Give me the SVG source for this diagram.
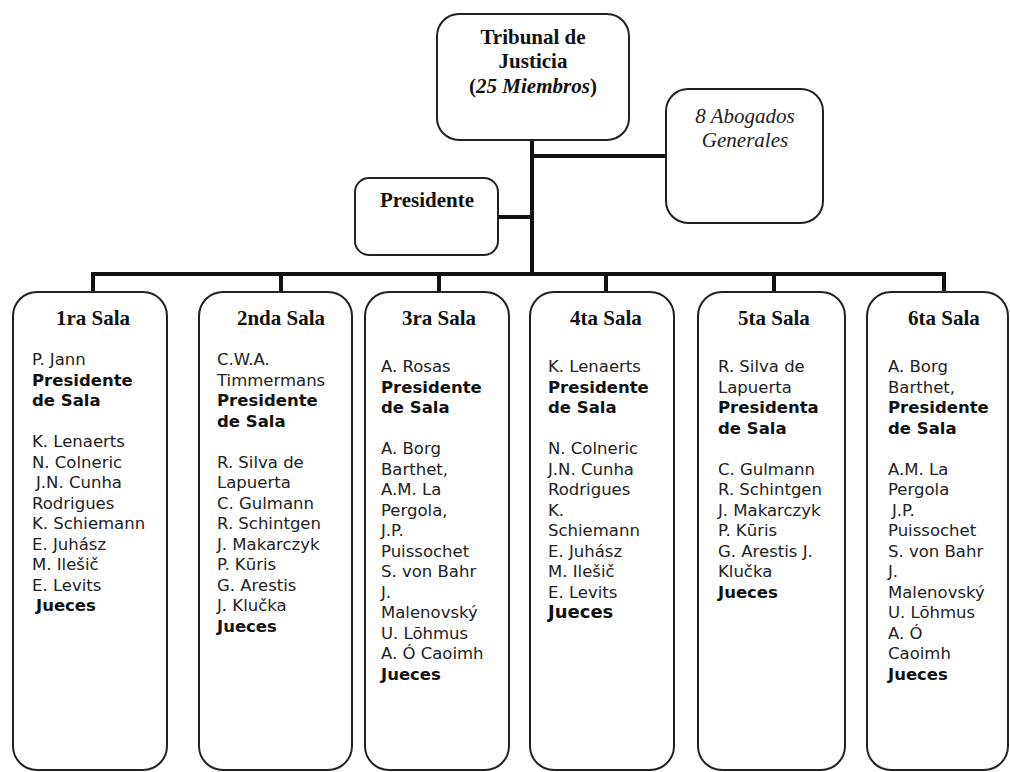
<svg xmlns="http://www.w3.org/2000/svg" width="1010" height="772" viewBox="0 0 1010 772">
<style>
.box{fill:#fff;stroke:#222;stroke-width:2}
.conn{fill:none;stroke:#111;stroke-width:4}
.hd{font-family:"Liberation Serif","Times New Roman",serif;font-size:21px;font-weight:bold;fill:#111;text-anchor:middle}
.it{font-family:"Liberation Serif","Times New Roman",serif;font-size:21px;font-style:italic;fill:#222;text-anchor:middle}
.bd{font-family:"DejaVu Sans",Verdana,sans-serif;font-size:16.5px;fill:#222}
.b{font-weight:bold;fill:#111}
</style>
<rect width="1010" height="772" fill="#fff"/>
<g id="connectors">
<path class="conn" d="M532,140 V274 M532,156 H666 M498,217 H532 M93,274 H944 M93,272 V292 M281,272 V292 M439,272 V292 M606,272 V292 M774,272 V292 M944,272 V292"/>
</g>
<g id="tribunal">
<rect class="box" x="437" y="14" width="192" height="126" rx="22"/>
<text class="hd" x="533" y="44">Tribunal de</text>
<text class="hd" x="533" y="68">Justicia</text>
<text class="hd" x="533" y="93">(<tspan font-style="italic">25 Miembros</tspan>)</text>
</g>
<g id="abogados">
<rect class="box" x="666" y="89" width="157" height="134" rx="22"/>
<text class="it" x="745" y="123">8 Abogados</text>
<text class="it" x="745" y="147">Generales</text>
</g>
<g id="presidente">
<rect class="box" x="355" y="178" width="143" height="77" rx="14"/>
<text class="hd" x="427" y="207">Presidente</text>
</g>
<g id="sala1">
<rect class="box" x="13" y="292" width="154" height="478" rx="24"/>
<text class="hd" x="93" y="325">1ra Sala</text>
<text class="bd" x="32" y="365">
<tspan x="32">P. Jann</tspan>
<tspan x="32" dy="20.5" class="b">Presidente</tspan>
<tspan x="32" dy="20.5" class="b">de Sala</tspan>
<tspan x="32" dy="41">K. Lenaerts</tspan>
<tspan x="32" dy="20.5">N. Colneric</tspan>
<tspan x="36" dy="20.5">J.N. Cunha</tspan>
<tspan x="32" dy="20.5">Rodrigues</tspan>
<tspan x="32" dy="20.5">K. Schiemann</tspan>
<tspan x="32" dy="20.5">E. Juhász</tspan>
<tspan x="32" dy="20.5">M. Ilešič</tspan>
<tspan x="32" dy="20.5">E. Levits</tspan>
<tspan x="36" dy="20.5" class="b">Jueces</tspan>
</text>
</g>
<g id="sala2">
<rect class="box" x="199" y="292" width="153" height="478" rx="24"/>
<text class="hd" x="281" y="325">2nda Sala</text>
<text class="bd" x="217" y="365">
<tspan x="217">C.W.A.</tspan>
<tspan x="217" dy="20.5">Timmermans</tspan>
<tspan x="217" dy="20.5" class="b">Presidente</tspan>
<tspan x="217" dy="20.5" class="b">de Sala</tspan>
<tspan x="217" dy="41">R. Silva de</tspan>
<tspan x="217" dy="20.5">Lapuerta</tspan>
<tspan x="217" dy="20.5">C. Gulmann</tspan>
<tspan x="217" dy="20.5">R. Schintgen</tspan>
<tspan x="217" dy="20.5">J. Makarczyk</tspan>
<tspan x="217" dy="20.5">P. Kūris</tspan>
<tspan x="217" dy="20.5">G. Arestis</tspan>
<tspan x="217" dy="20.5">J. Klučka</tspan>
<tspan x="217" dy="20.5" class="b">Jueces</tspan>
</text>
</g>
<g id="sala3">
<rect class="box" x="365" y="292" width="144" height="478" rx="24"/>
<text class="hd" x="439" y="325">3ra Sala</text>
<text class="bd" x="381" y="372">
<tspan x="381">A. Rosas</tspan>
<tspan x="381" dy="20.5" class="b">Presidente</tspan>
<tspan x="381" dy="20.5" class="b">de Sala</tspan>
<tspan x="381" dy="41">A. Borg</tspan>
<tspan x="381" dy="20.5">Barthet,</tspan>
<tspan x="381" dy="20.5">A.M. La</tspan>
<tspan x="381" dy="20.5">Pergola,</tspan>
<tspan x="381" dy="20.5">J.P.</tspan>
<tspan x="381" dy="20.5">Puissochet</tspan>
<tspan x="381" dy="20.5">S. von Bahr</tspan>
<tspan x="381" dy="20.5">J.</tspan>
<tspan x="381" dy="20.5">Malenovský</tspan>
<tspan x="381" dy="20.5">U. Lõhmus</tspan>
<tspan x="381" dy="20.5">A. Ó Caoimh</tspan>
<tspan x="381" dy="20.5" class="b">Jueces</tspan>
</text>
</g>
<g id="sala4">
<rect class="box" x="530" y="292" width="144" height="478" rx="24"/>
<text class="hd" x="606" y="325">4ta Sala</text>
<text class="bd" x="548" y="372">
<tspan x="548">K. Lenaerts</tspan>
<tspan x="548" dy="20.5" class="b">Presidente</tspan>
<tspan x="548" dy="20.5" class="b">de Sala</tspan>
<tspan x="548" dy="41">N. Colneric</tspan>
<tspan x="548" dy="20.5">J.N. Cunha</tspan>
<tspan x="548" dy="20.5">Rodrigues</tspan>
<tspan x="548" dy="20.5">K.</tspan>
<tspan x="548" dy="20.5">Schiemann</tspan>
<tspan x="548" dy="20.5">E. Juhász</tspan>
<tspan x="548" dy="20.5">M. Ilešič</tspan>
<tspan x="548" dy="20.5">E. Levits</tspan>
<tspan x="548" dy="20.5" class="b" font-size="18">Jueces</tspan>
</text>
</g>
<g id="sala5">
<rect class="box" x="698" y="292" width="147" height="478" rx="24"/>
<text class="hd" x="774" y="325">5ta Sala</text>
<text class="bd" x="718" y="372">
<tspan x="718">R. Silva de</tspan>
<tspan x="718" dy="20.5">Lapuerta</tspan>
<tspan x="718" dy="20.5" class="b">Presidenta</tspan>
<tspan x="718" dy="20.5" class="b">de Sala</tspan>
<tspan x="718" dy="41">C. Gulmann</tspan>
<tspan x="718" dy="20.5">R. Schintgen</tspan>
<tspan x="718" dy="20.5">J. Makarczyk</tspan>
<tspan x="718" dy="20.5">P. Kūris</tspan>
<tspan x="718" dy="20.5">G. Arestis J.</tspan>
<tspan x="718" dy="20.5">Klučka</tspan>
<tspan x="718" dy="20.5" class="b">Jueces</tspan>
</text>
</g>
<g id="sala6">
<rect class="box" x="867" y="292" width="141" height="478" rx="24"/>
<text class="hd" x="944" y="325">6ta Sala</text>
<text class="bd" x="888" y="372">
<tspan x="888">A. Borg</tspan>
<tspan x="888" dy="20.5">Barthet,</tspan>
<tspan x="888" dy="20.5" class="b">Presidente</tspan>
<tspan x="888" dy="20.5" class="b">de Sala</tspan>
<tspan x="888" dy="41">A.M. La</tspan>
<tspan x="888" dy="20.5">Pergola</tspan>
<tspan x="892" dy="20.5">J.P.</tspan>
<tspan x="888" dy="20.5">Puissochet</tspan>
<tspan x="888" dy="20.5">S. von Bahr</tspan>
<tspan x="888" dy="20.5">J.</tspan>
<tspan x="888" dy="20.5">Malenovský</tspan>
<tspan x="888" dy="20.5">U. Lõhmus</tspan>
<tspan x="888" dy="20.5">A. Ó</tspan>
<tspan x="888" dy="20.5">Caoimh</tspan>
<tspan x="888" dy="20.5" class="b">Jueces</tspan>
</text>
</g>
</svg>
